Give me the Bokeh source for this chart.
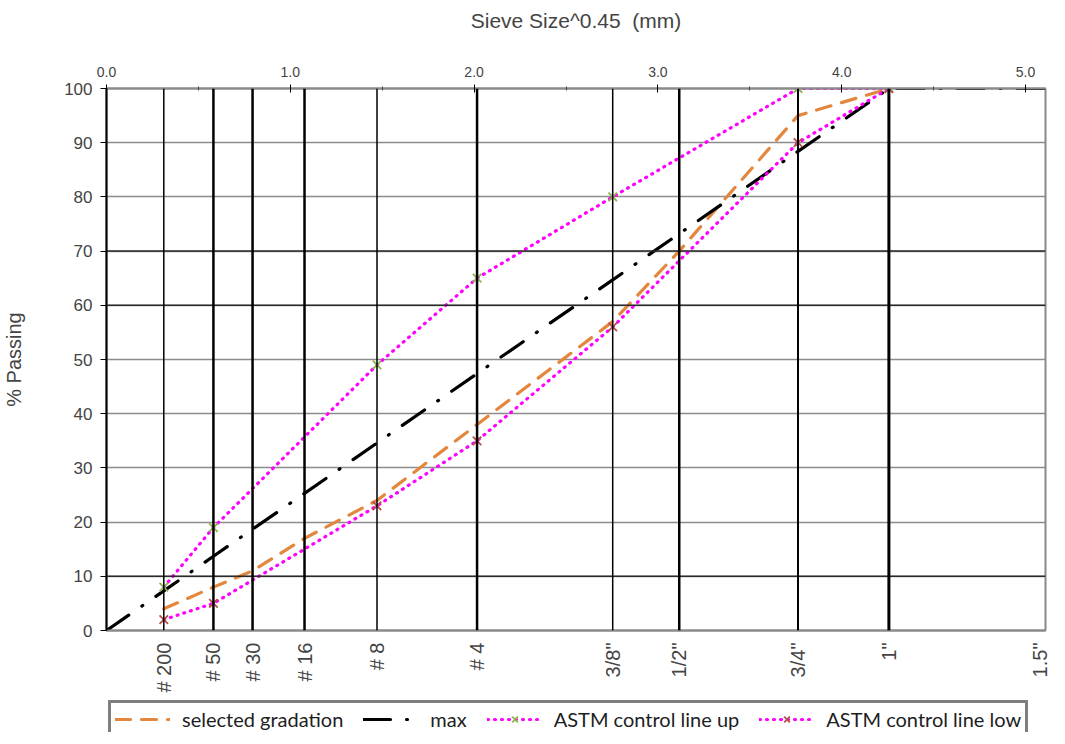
import math
from bokeh.plotting import figure
from bokeh.layouts import column
from bokeh.models import (LinearAxis, FixedTicker, PrintfTickFormatter, Span, Legend,
                          LegendItem, Range1d, Grid, CustomJSTickFormatter)
from bokeh.embed import file_html
from bokeh.resources import INLINE

# ---- data ----
sieve_labels = ["# 200", "# 50", "# 30", "# 16", "# 8", "# 4", '3/8"', '1/2"', '3/4"', '1"', '1.5"']
sieve_mm = [0.075, 0.3, 0.6, 1.18, 2.36, 4.75, 9.5, 12.5, 19.0, 25.0, 37.5]

selected_mm = [0.075, 0.3, 0.6, 1.18, 2.36, 4.75, 9.5, 12.5, 19.0, 25.0]
selected_pct = [4, 8, 11, 17, 24, 38, 57, 70, 95, 100]

max_mm = [0.0, 0.075, 0.3, 0.6, 1.18, 2.36, 4.75, 9.5, 12.5, 19.0, 25.0, 37.5]
max_pct = [0, 7.3, 13.7, 18.7, 25.3, 34.6, 47.4, 64.7, 73.2, 88.4, 100, 100]

up_mm = [0.075, 0.3, 2.36, 4.75, 9.5, 19.0, 25.0]
up_pct = [8, 19, 49, 65, 80, 100, 100]

low_mm = [0.075, 0.3, 2.36, 4.75, 9.5, 19.0, 25.0]
low_pct = [2, 5, 23, 35, 56, 90, 100]

series_names = ["selected gradation", "max", "ASTM control line up", "ASTM control line low"]

top_ticks = [0, 1, 2, 3, 4, 5]
top_minor = [0.5, 1.5, 2.5, 3.5, 4.5]
y_ticks = [0, 10, 20, 30, 40, 50, 60, 70, 80, 90, 100]
dark_grid = [10, 60, 70]

# axis transform: sieve size ^ 0.45
def tx(vals):
    return [v ** 0.45 for v in vals]

sieve_x = tx(sieve_mm)

# ---- styles ----
span_widths = [1.5, 2.5, 2.5, 2.5, 1.5, 2.5, 1.5, 2.5, 2, 3]
FONT = "Liberation Sans"
ORANGE = "#E3873E"
MAGENTA = "#FF00FF"
GREEN = "#8DB252"
BROWN = "#B5504B"

p = figure(width=1050, height=700, output_backend="svg", toolbar_location=None,
           x_range=Range1d(0, sieve_x[-1]), y_range=Range1d(0, 100),
           x_axis_location=None, y_axis_location=None,
           min_border_left=100, min_border_right=5, min_border_top=88, min_border_bottom=70)
p.center = [r for r in p.center if not isinstance(r, Grid)]
p.outline_line_color = "#8a8a8a"
p.outline_line_width = 2
p.background_fill_color = "white"
p.border_fill_color = "white"

# axes
left = LinearAxis(ticker=FixedTicker(ticks=y_ticks))
left.axis_line_color = "black"
left.axis_line_width = 2
left.major_tick_line_color = "black"
left.major_tick_in = 0
left.major_tick_out = 6
left.minor_tick_line_color = None
left.major_label_text_font = FONT
left.major_label_text_font_size = "17px"
left.major_label_standoff = 8
left.axis_label = "% Passing"
left.axis_label_text_font = FONT
left.axis_label_text_font_size = "20px"
left.axis_label_text_font_style = "normal"
left.axis_label_standoff = 36
p.add_layout(left, "left")

top = LinearAxis(ticker=FixedTicker(ticks=top_ticks, minor_ticks=top_minor),
                 formatter=PrintfTickFormatter(format="%.1f"))
top.axis_line_color = "#8a8a8a"
top.axis_line_width = 2
top.major_tick_line_color = "black"
top.major_tick_in = 4
top.major_tick_out = 4
top.minor_tick_line_color = "#444444"
top.minor_tick_in = 2
top.minor_tick_out = 2
top.major_label_text_font = FONT
top.major_label_text_font_size = "14px"
top.major_label_standoff = 8
top.axis_label = "Sieve Size^0.45\u00a0 (mm)"
top.axis_label_text_font = FONT
top.axis_label_text_font_size = "21px"
top.axis_label_text_font_style = "normal"
top.axis_label_standoff = 32
p.add_layout(top, "above")

bottom = LinearAxis(ticker=FixedTicker(ticks=sieve_x),
                    formatter=CustomJSTickFormatter(args=dict(labels=sieve_labels, xs=sieve_x), code="""
let best = 0, bd = 1e9;
for (let i = 0; i < xs.length; i++) { const d = Math.abs(xs[i] - tick); if (d < bd) { bd = d; best = i; } }
return labels[best];
"""))
bottom.axis_line_color = "#8a8a8a"
bottom.axis_line_width = 2
bottom.major_tick_line_color = None
bottom.minor_tick_line_color = None
bottom.major_label_orientation = math.pi / 2
bottom.major_label_text_font = FONT
bottom.major_label_text_font_size = "20px"
bottom.major_label_standoff = 6
p.add_layout(bottom, "below")

# horizontal grid
p.add_layout(Grid(dimension=1, ticker=FixedTicker(ticks=y_ticks), grid_line_color="#8c8c8c",
                  grid_line_width=1.3))
for yv in dark_grid:
    p.add_layout(Span(location=yv, dimension="width", line_color="#2a2a2a", line_width=1.5))

# vertical sieve lines
for xv, w in zip(sieve_x[:-1], span_widths):
    p.add_layout(Span(location=xv, dimension="height", line_color="black", line_width=w))

# series
sel_style = dict(line_color=ORANGE, line_width=3.2, line_dash="15 11", line_cap="round")
max_style = dict(line_color="black", line_width=3.2, line_dash="27 16 1 16", line_cap="round")
ctl_style = dict(line_color=MAGENTA, line_width=3.2, line_dash="1 6", line_cap="round")
up_mark = dict(marker="x", size=12, line_color=GREEN, line_width=1.8)
low_mark = dict(marker="x", size=12, line_color=BROWN, line_width=1.8)

p.line(tx(selected_mm), selected_pct, **sel_style)
p.line(tx(max_mm), max_pct, **max_style)
p.line(tx(up_mm), up_pct, **ctl_style)
p.scatter(tx(up_mm), up_pct, **up_mark)
p.line(tx(low_mm), low_pct, **ctl_style)
p.scatter(tx(low_mm), low_pct, **low_mark)

# ---- legend strip (separate figure below the chart; its series lie outside its view) ----
lg = figure(width=1050, height=32, output_backend="svg", toolbar_location=None,
            x_range=Range1d(0, 1), y_range=Range1d(500, 501),
            x_axis_location=None, y_axis_location=None,
            min_border_left=0, min_border_right=0, min_border_top=0, min_border_bottom=0)
lg.center = [r for r in lg.center if not isinstance(r, Grid)]
lg.outline_line_color = None
lg.background_fill_color = "white"
lg.border_fill_color = "white"

l_sel = lg.line(tx(selected_mm), selected_pct, **sel_style)
l_max = lg.line(tx(max_mm), max_pct, **max_style)
l_up = lg.line(tx(up_mm), up_pct, **ctl_style)
s_up = lg.scatter(tx(up_mm), up_pct, **up_mark)
l_low = lg.line(tx(low_mm), low_pct, **ctl_style)
s_low = lg.scatter(tx(low_mm), low_pct, **low_mark)

legend = Legend(items=[
    LegendItem(label=series_names[0], renderers=[l_sel]),
    LegendItem(label=series_names[1], renderers=[l_max]),
    LegendItem(label=series_names[2], renderers=[l_up, s_up]),
    LegendItem(label=series_names[3], renderers=[l_low, s_low]),
], orientation="horizontal", location=(2, -6))
legend.label_text_font = "Lato"
legend.label_text_font_size = "20px"
legend.label_text_color = "#1e1e1e"
legend.glyph_width = 55
legend.glyph_height = 20
legend.label_standoff = 12
legend.spacing = 20
legend.padding = 4
legend.margin = 0
legend.border_line_color = "black"
legend.border_line_width = 3
legend.background_fill_color = "white"
legend.background_fill_alpha = 1
lg.add_layout(legend, "center")

open("out.html", "w").write(file_html(column(p, lg), INLINE))
